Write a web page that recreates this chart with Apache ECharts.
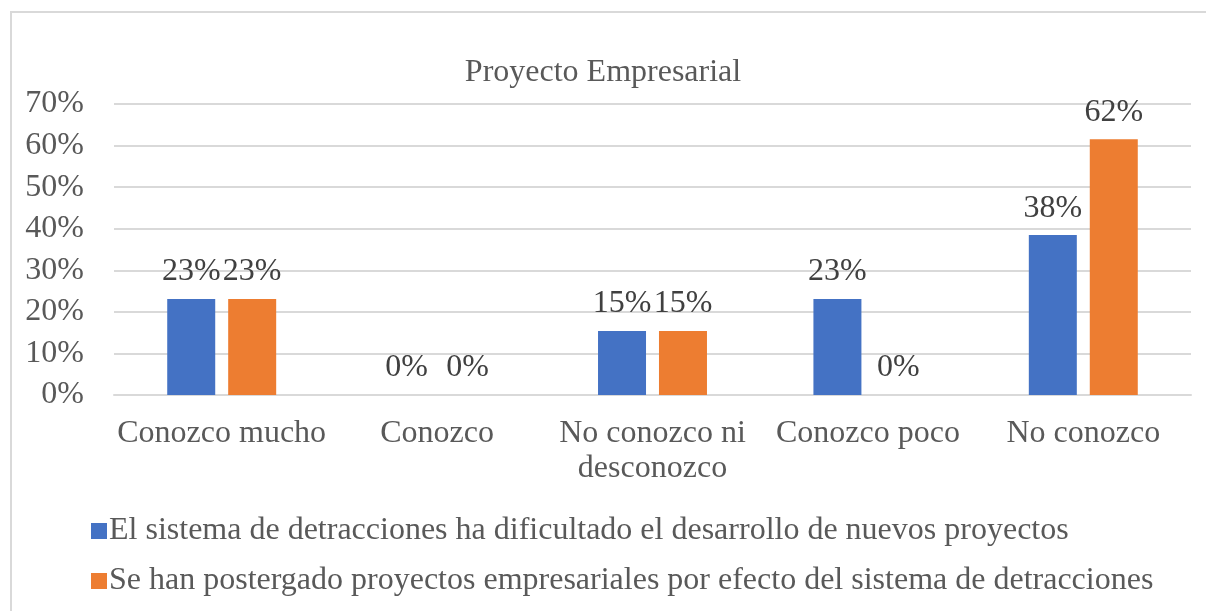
<!DOCTYPE html>
<html>
<head>
<meta charset="utf-8">
<script src="https://cdn.jsdelivr.net/npm/echarts@6/dist/echarts.min.js"></script>
<style>
  html, body { margin: 0; padding: 0; background: #fff; overflow: hidden; }
  #frame { position: absolute; left: 10px; top: 11px; width: 1300px; height: 700px; border: 2px solid #d9d9d9; box-sizing: border-box; }
  #main { position: absolute; left: 0; top: 0; width: 1206px; height: 611px; }
</style>
</head>
<body>
<div id="frame"></div>
<div id="main"></div>
<script>
var categories = ['Conozco mucho', 'Conozco', 'No conozco ni\ndesconozco', 'Conozco poco', 'No conozco'];
var serieDificultado = [23.08, 0, 15.38, 23.08, 38.46];
var seriePostergado = [23.08, 0, 15.38, 0, 61.54];
var seriesNames = [
  'El sistema de detracciones ha dificultado el desarrollo de nuevos proyectos',
  'Se han postergado proyectos empresariales por efecto del sistema de detracciones'
];

var chartDom = document.getElementById('main');
var myChart = echarts.init(chartDom);
var font = '"Liberation Serif", "DejaVu Serif", serif';

var labelOpt = {
  show: true,
  position: 'top',
  distance: 11,
  color: '#404040',
  fontFamily: font,
  fontSize: 32,
  formatter: function (p) { return Math.round(p.value) + '%'; }
};

var option = {
  animation: false,
  title: {
    text: 'Proyecto Empresarial',
    left: 'center',
    top: 52,
    textStyle: { fontFamily: font, fontSize: 32, fontWeight: 'normal', color: '#595959' }
  },
  legend: {
    orient: 'vertical',
    left: 86,
    top: 510,
    itemWidth: 16,
    itemHeight: 16,
    itemGap: 18,
    icon: 'rect',
    textStyle: { fontFamily: font, fontSize: 32, color: '#595959', padding: [0, 0, 0, -3] },
    data: seriesNames
  },
  grid: { left: 114, right: 15, top: 104, bottom: 216, containLabel: false },
  xAxis: {
    type: 'category',
    data: categories,
    axisLine: { lineStyle: { color: '#d9d9d9', width: 2 } },
    axisTick: { show: false },
    axisLabel: { fontFamily: font, fontSize: 32, color: '#595959', margin: 21, lineHeight: 35, interval: 0 }
  },
  yAxis: {
    type: 'value',
    min: 0,
    max: 70,
    interval: 10,
    axisLabel: { fontFamily: font, fontSize: 32, color: '#595959', margin: 30, formatter: '{value}%' },
    splitLine: { lineStyle: { color: '#d9d9d9', width: 2 } }
  },
  series: [
    {
      name: seriesNames[0],
      type: 'bar',
      data: serieDificultado,
      barWidth: 48,
      barGap: '27%',
      itemStyle: { color: '#4472C4' },
      label: labelOpt
    },
    {
      name: seriesNames[1],
      type: 'bar',
      data: seriePostergado,
      barWidth: 48,
      barGap: '27%',
      itemStyle: { color: '#ED7D31' },
      label: labelOpt
    }
  ]
};

myChart.setOption(option);
</script>
</body>
</html>
